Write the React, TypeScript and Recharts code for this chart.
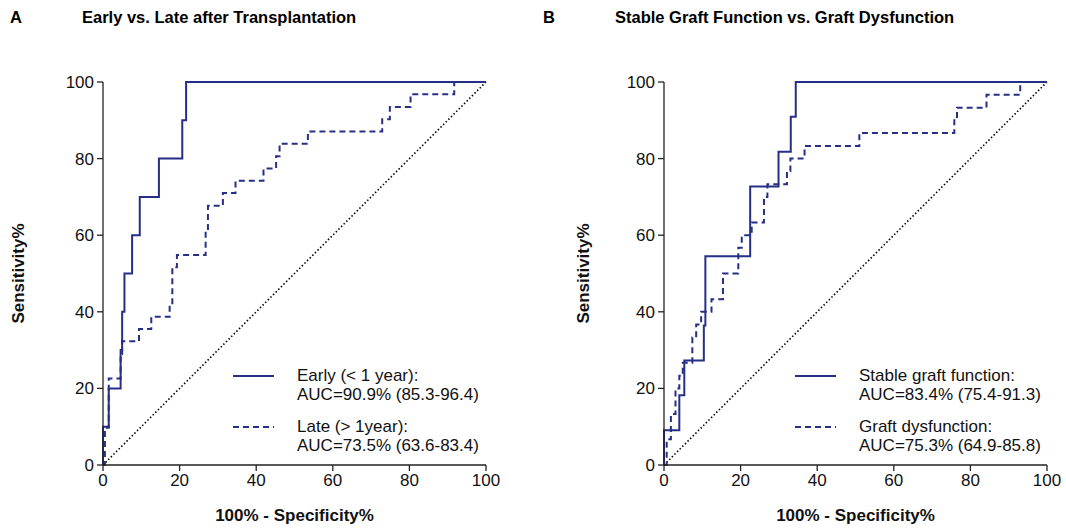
import React from 'react';
import { LineChart, Line, XAxis, YAxis } from 'recharts';

// ROC step corners: 100% - specificity (x), sensitivity (y)
const earlyFpr = [0, 0, 1.5, 4.6, 5.0, 5.6, 7.6, 9.6, 14.6, 20.7, 21.7, 100];
const earlyTpr = [0, 10, 20, 30, 40, 50, 60, 70, 80, 90, 100, 100];

const lateFpr = [0, 0.5, 1.5, 4.6, 5.0, 9.4, 12.6, 17.4, 18.1, 19.3, 26.8, 27.4, 31.3, 34.6, 41.9, 45.2, 46.1, 53.5, 72.9, 74.9, 80.3, 91.7, 100];
const lateTpr = [0, 9.7, 22.6, 29.0, 32.3, 35.5, 38.7, 41.9, 51.6, 54.8, 61.3, 67.7, 71.0, 74.2, 77.4, 80.6, 83.9, 87.1, 90.3, 93.5, 96.8, 100, 100];

const stableFpr = [0, 0, 4.0, 5.3, 10.4, 10.8, 22.5, 29.9, 33.1, 34.4, 100];
const stableTpr = [0, 9.1, 18.2, 27.3, 36.4, 54.5, 72.7, 81.8, 90.9, 100, 100];

const dysFpr = [0, 0.7, 1.8, 3.0, 4.0, 4.9, 7.4, 8.4, 9.7, 12.4, 15.4, 19.4, 20.3, 22.9, 26.1, 27.0, 32.1, 33.0, 36.7, 51.0, 75.8, 76.5, 84.2, 93.0, 100];
const dysTpr = [0, 6.7, 13.3, 20.0, 23.3, 26.7, 33.3, 36.7, 40.0, 43.3, 50.0, 56.7, 60.0, 63.3, 70.0, 73.3, 76.7, 80.0, 83.3, 86.7, 90.0, 93.3, 96.7, 100, 100];

const refFpr = [0, 100];
const refTpr = [0, 100];

const ticks = [0, 20, 40, 60, 80, 100];

const NAVY = '#262f86';
const FONT = '"Liberation Sans", Arial, Helvetica, sans-serif';

const toPoints = (xs: number[], ys: number[]) => xs.map((x, i) => ({ x, y: ys[i] }));

interface SeriesDef {
  name: string;
  auc: string;
  fpr: number[];
  tpr: number[];
  dash?: string;
}

interface PanelProps {
  letter: string;
  title: string;
  series: SeriesDef[];
  marginLeft: number;
  marginRight: number;
  legendLeft: number;
  yLabelOffset: number;
}

function LegendBox({ series, left }: { series: SeriesDef[]; left: number }) {
  return (
    <div style={{ position: 'absolute', left, top: 366, fontFamily: FONT, fontSize: 17, color: '#111', lineHeight: '19px' }}>
      {series.map((s, i) => (
        <div key={s.name} style={{ display: 'flex', alignItems: 'flex-start', marginBottom: i === 0 ? 13 : 0 }}>
          <svg width={64} height={19} style={{ flex: 'none' }}>
            <line x1={0} x2={41} y1={10} y2={10} stroke={NAVY} strokeWidth={2} strokeDasharray={s.dash} />
          </svg>
          <div>
            <div>{s.name}</div>
            <div>{s.auc}</div>
          </div>
        </div>
      ))}
    </div>
  );
}

function RocPanel({ letter, title, series, marginLeft, marginRight, legendLeft, yLabelOffset }: PanelProps) {
  const axisStyle = { fontSize: 17, fill: '#111', fontFamily: FONT };
  const headStyle = { position: 'absolute' as const, top: 8, fontFamily: FONT, fontWeight: 700, fontSize: 16.5, color: '#000' };
  return (
    <div style={{ position: 'relative', width: 533, height: 528 }}>
      <div style={{ ...headStyle, left: 10 }}>{letter}</div>
      <div style={{ ...headStyle, left: 82 }}>{title}</div>
      <LineChart width={533} height={528} margin={{ top: 82, right: marginRight, bottom: 33, left: marginLeft }}>
        <XAxis
          type="number"
          dataKey="x"
          domain={[0, 100]}
          ticks={ticks}
          tick={axisStyle}
          tickSize={6}
          tickMargin={3}
          height={30}
          stroke="#222"
          strokeWidth={1.3}
          label={{ value: '100% - Specificity%', position: 'bottom', offset: 14, style: { ...axisStyle, fontWeight: 700 } }}
        />
        <YAxis
          type="number"
          dataKey="y"
          domain={[0, 100]}
          ticks={ticks}
          tick={axisStyle}
          tickSize={6}
          tickMargin={3}
          width={50}
          stroke="#222"
          strokeWidth={1.3}
          label={{ value: 'Sensitivity%', angle: -90, position: 'left', offset: yLabelOffset, style: { ...axisStyle, fontWeight: 700, textAnchor: 'middle' } }}
        />
        <Line
          data={toPoints(refFpr, refTpr)}
          dataKey="y"
          type="linear"
          stroke="#000"
          strokeWidth={1.6}
          strokeDasharray="1.5 2.2"
          dot={false}
          activeDot={false}
          isAnimationActive={false}
        />
        {series.map((s) => (
          <Line
            key={s.name}
            name={s.name}
            data={toPoints(s.fpr, s.tpr)}
            dataKey="y"
            type="stepAfter"
            stroke={NAVY}
            strokeWidth={2}
            strokeDasharray={s.dash}
            dot={false}
            activeDot={false}
            isAnimationActive={false}
          />
        ))}
      </LineChart>
      <LegendBox series={series} left={legendLeft} />
    </div>
  );
}

export default function App() {
  return (
    <div style={{ position: 'absolute', left: 0, top: 0, width: 1066, height: 528, background: '#fff', display: 'flex' }}>
      <RocPanel
        letter="A"
        title="Early vs. Late after Transplantation"
        marginLeft={53}
        marginRight={47}
        legendLeft={233}
        yLabelOffset={35}
        series={[
          { name: 'Early (< 1 year):', auc: 'AUC=90.9% (85.3-96.4)', fpr: earlyFpr, tpr: earlyTpr },
          { name: 'Late (> 1year):', auc: 'AUC=73.5% (63.6-83.4)', fpr: lateFpr, tpr: lateTpr, dash: '6 4' },
        ]}
      />
      <RocPanel
        letter="B"
        title="Stable Graft Function vs. Graft Dysfunction"
        marginLeft={81}
        marginRight={19}
        legendLeft={262}
        yLabelOffset={31}
        series={[
          { name: 'Stable graft function:', auc: 'AUC=83.4% (75.4-91.3)', fpr: stableFpr, tpr: stableTpr },
          { name: 'Graft dysfunction:', auc: 'AUC=75.3% (64.9-85.8)', fpr: dysFpr, tpr: dysTpr, dash: '6 4' },
        ]}
      />
    </div>
  );
}
